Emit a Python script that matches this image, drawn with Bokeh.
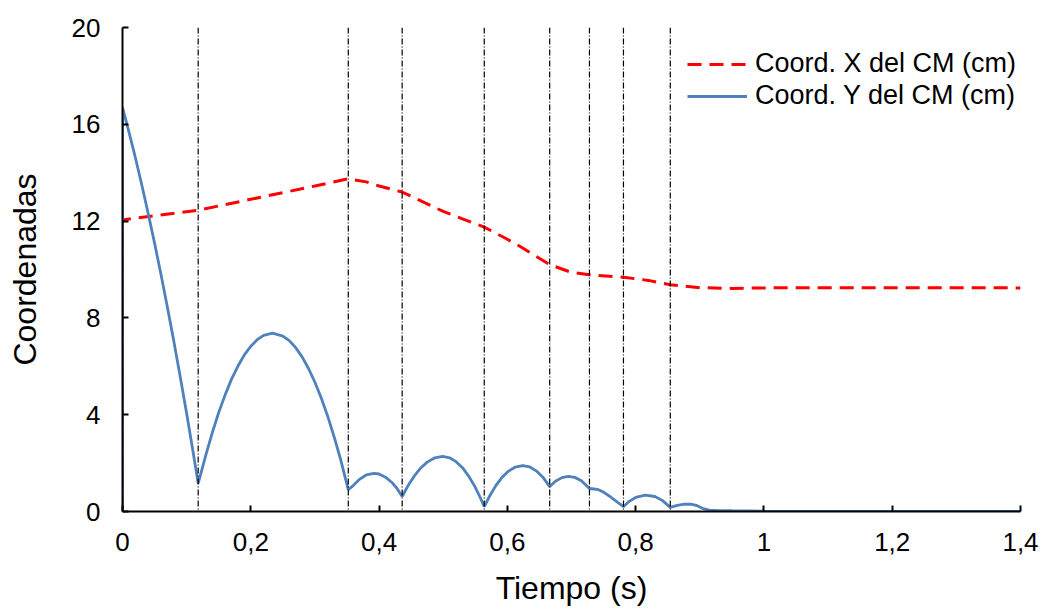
from bokeh.plotting import figure
from bokeh.models import Range1d, FixedTicker, Span, Legend, LegendItem
from bokeh.embed import file_html
from bokeh.resources import INLINE

# ---- data ----
t_x = [0, 0, 0.118, 0.2, 0.3, 0.352, 0.38, 0.4, 0.436, 0.5, 0.564, 0.6, 0.62,
       0.666, 0.7, 0.728, 0.781, 0.82, 0.854, 0.9, 0.95, 1.0, 1.2, 1.4]
x_cm = [0, 12.05, 12.45, 12.9, 13.45, 13.75, 13.62, 13.45, 13.2, 12.4, 11.75, 11.25, 10.95,
        10.2, 9.88, 9.78, 9.68, 9.55, 9.37, 9.25, 9.22, 9.24, 9.25, 9.24]

t_y = [0, 0, 0.01, 0.02, 0.03, 0.04, 0.05, 0.06, 0.07, 0.08, 0.09, 0.10, 0.11, 0.118,
       0.13, 0.14, 0.15, 0.16, 0.17, 0.18, 0.19, 0.20, 0.21, 0.22, 0.234,
       0.25, 0.26, 0.27, 0.28, 0.29, 0.30, 0.31, 0.32, 0.33, 0.34, 0.352,
       0.36, 0.37, 0.38, 0.392, 0.40, 0.41, 0.42, 0.428, 0.436,
       0.445, 0.455, 0.465, 0.475, 0.487, 0.499, 0.51, 0.52, 0.53, 0.54, 0.55, 0.557, 0.564,
       0.572, 0.582, 0.592, 0.602, 0.612, 0.624, 0.635, 0.645, 0.655, 0.666,
       0.675, 0.685, 0.695, 0.705, 0.715, 0.728,
       0.735, 0.742, 0.75, 0.76, 0.77, 0.781,
       0.79, 0.80, 0.815, 0.83, 0.842, 0.854,
       0.865, 0.876, 0.886, 0.896, 0.905, 0.915, 0.93, 0.95, 0.975, 1.0, 1.1, 1.2, 1.4]
y_cm = [0, 16.7, 15.69, 14.63, 13.50, 12.32, 11.09, 9.79, 8.44, 7.04, 5.57, 4.05, 2.47, 1.16,
        2.34, 3.26, 4.09, 4.82, 5.47, 6.01, 6.47, 6.83, 7.10, 7.28, 7.37,
        7.25, 7.06, 6.77, 6.39, 5.91, 5.34, 4.68, 3.93, 3.08, 2.15, 0.90,
        1.08, 1.34, 1.51, 1.58, 1.55, 1.42, 1.20, 0.95, 0.62,
        1.06, 1.47, 1.80, 2.04, 2.22, 2.28, 2.22, 2.06, 1.81, 1.45, 1.00, 0.62, 0.20,
        0.62, 1.07, 1.42, 1.67, 1.83, 1.90, 1.84, 1.68, 1.43, 1.03,
        1.25, 1.40, 1.45, 1.41, 1.28, 0.95,
        0.93, 0.90, 0.80, 0.62, 0.42, 0.20,
        0.42, 0.58, 0.68, 0.62, 0.45, 0.17,
        0.25, 0.30, 0.30, 0.24, 0.12, 0.06, 0.04, 0.03, 0.02, 0.01, 0.0, 0.0, 0.0]

impact_times = [0.118, 0.352, 0.436, 0.564, 0.666, 0.728, 0.781, 0.854]

x_ticks = [0, 0.2, 0.4, 0.6, 0.8, 1.0, 1.2, 1.4]
x_tick_labels = ["0", "0,2", "0,4", "0,6", "0,8", "1", "1,2", "1,4"]
y_ticks = [0, 4, 8, 12, 16, 20]

label_x = "Coord. X del CM (cm)"
label_y = "Coord. Y del CM (cm)"

FONT = "Liberation Sans"

p = figure(frame_width=898, frame_height=484,
           x_range=Range1d(0, 1.4), y_range=Range1d(0, 20),
           output_backend="svg", toolbar_location=None,
           min_border_left=122, min_border_right=21,
           min_border_top=27, min_border_bottom=98)
p.outline_line_color = None
p.xgrid.visible = False
p.ygrid.visible = False
p.background_fill_color = "white"
p.border_fill_color = "white"

for t in impact_times:
    p.add_layout(Span(location=t, dimension="height", line_color="black",
                      line_width=1.2, line_dash="6 2 1 2"))

rx = p.line(t_x, x_cm, line_color="#FF0000", line_width=3, line_dash="14 8")
ry = p.line(t_y, y_cm, line_color="#4F81BD", line_width=2.8)

for ax in (p.xaxis[0], p.yaxis[0]):
    ax.axis_line_width = 2
    ax.axis_line_color = "black"
    ax.major_tick_line_width = 2
    ax.major_tick_line_color = "black"
    ax.major_tick_in = 6
    ax.major_tick_out = 0
    ax.minor_tick_line_color = None
    ax.major_label_text_font = FONT
    ax.major_label_text_font_size = "26px"
    ax.major_label_text_color = "black"
    ax.axis_label_text_font = FONT
    ax.axis_label_text_font_size = "32px"
    ax.axis_label_text_font_style = "normal"
    ax.axis_label_text_color = "black"

p.xaxis.ticker = FixedTicker(ticks=x_ticks)
p.xaxis.major_label_overrides = {v: s for v, s in zip(x_ticks, x_tick_labels)}
p.yaxis.ticker = FixedTicker(ticks=y_ticks)
p.xaxis.axis_label = "Tiempo (s)"
p.yaxis.axis_label = "Coordenadas"
p.xaxis.major_label_standoff = 21
p.yaxis.major_label_standoff = 22
p.xaxis.axis_label_standoff = 16
p.yaxis.axis_label_standoff = 26

legend = Legend(items=[LegendItem(label=label_x, renderers=[rx]),
                       LegendItem(label=label_y, renderers=[ry])],
                location=(565, 400))
legend.glyph_width = 60
legend.glyph_height = 30
legend.label_height = 30
legend.label_standoff = 8
legend.spacing = 1
legend.padding = 0
legend.margin = 0
legend.background_fill_alpha = 0
legend.border_line_color = None
legend.label_text_font = FONT
legend.label_text_font_size = "27px"
legend.label_text_color = "black"
p.add_layout(legend)

open("out.html", "w").write(file_html(p, INLINE))
